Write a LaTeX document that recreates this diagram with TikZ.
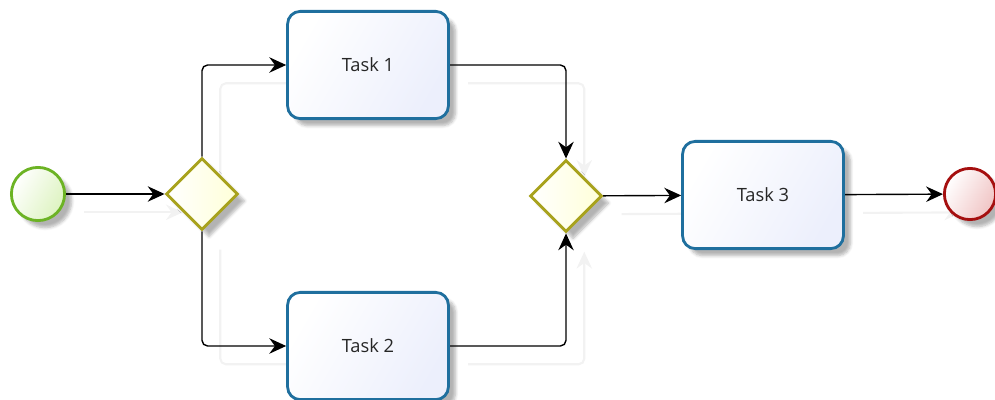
\documentclass[tikz,border=0pt]{standalone}
\usepackage{fontspec}
\setmainfont{Open Sans}
\usepackage{xcolor}
\usepackage{tikz}
\usetikzlibrary{shapes.geometric,arrows.meta,positioning,backgrounds,shadows.blur}

\definecolor{taskline}{HTML}{1F6F9E}
\definecolor{taskfill}{HTML}{ECEFFC}
\definecolor{gateline}{HTML}{A8A21C}
\definecolor{gatefill}{HTML}{FFFFD8}
\definecolor{startline}{HTML}{6CB324}
\definecolor{startfill}{HTML}{DDF3C0}
\definecolor{endline}{HTML}{A50F0F}
\definecolor{endfill}{HTML}{F0C4C4}

\begin{document}
\begin{tikzpicture}[
    x=0.025cm, y=-0.025cm,
    shade/.style={blur shadow={shadow xshift=5pt, shadow yshift=-5pt, shadow blur steps=6, shadow opacity=30}},
    task/.style={rectangle, rounded corners=9pt, draw=taskline, line width=2pt, left color=white, right color=taskfill, shading angle=60, minimum width=4.02cm, minimum height=2.68cm, font=\fontsize{13}{15}\selectfont, text=black!85, shade},
    gateway/.style={diamond, draw=gateline, line width=2pt, left color=white, right color=gatefill, inner sep=0pt, minimum size=1.8cm, shade},
    startev/.style={circle, draw=startline, line width=2pt, left color=white, right color=startfill, shading angle=60, inner sep=0pt, minimum size=1.33cm, shade},
    endev/.style={circle, draw=endline, line width=2pt, left color=white, right color=endfill, shading angle=60, inner sep=0pt, minimum size=1.28cm, shade},
    flow/.style={line width=1pt, rounded corners=4pt, -{Stealth[length=12pt, width=11pt, inset=4pt]}, preaction={draw=black!5, line width=1.5pt, transform canvas={shift={(13pt,-13pt)}}}}
]
    \useasboundingbox (0,0) rectangle (995,400);

    \node [startev] (start) at (38,194) {};
    \node [gateway] (split) at (202,194) {};
    \node [task] (task1) at (368,65) {Task 1};
    \node [task] (task2) at (368,346) {Task 2};
    \node [gateway] (join) at (566,196) {};
    \node [task] (task3) at (763,195) {Task 3};
    \node [endev] (finish) at (970,194) {};

    % Sequence flows
    \begin{scope}[on background layer]
        \draw [flow] (start) -- (split);
        \draw [flow] (split.north) |- (task1.west);
        \draw [flow] (split.south) |- (task2.west);
        \draw [flow] (task1.east) -| (join.north);
        \draw [flow] (task2.east) -| (join.south);
        \draw [flow] (join) -- (task3);
        \draw [flow] (task3) -- (finish);
    \end{scope}

\end{tikzpicture}
\end{document}
